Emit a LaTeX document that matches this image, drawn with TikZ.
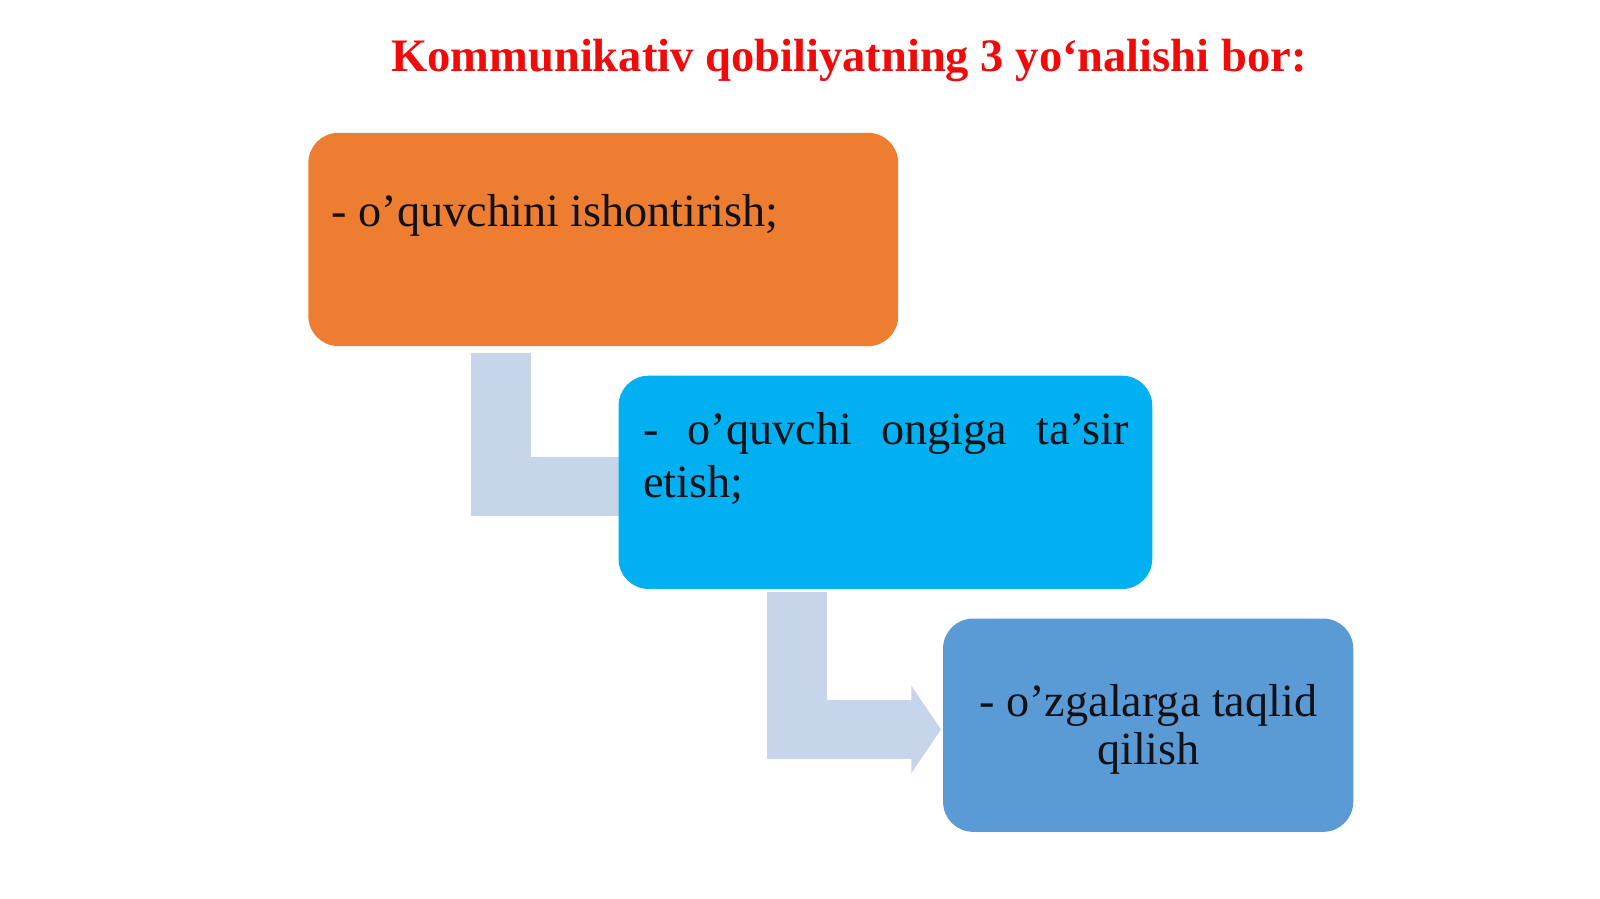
\documentclass[tikz,border=0pt]{standalone}
\usepackage{fontspec}
\setmainfont{Liberation Serif}
\usetikzlibrary{arrows.meta,calc,backgrounds}
\definecolor{orng}{HTML}{ED7D31}
\definecolor{cyanb}{HTML}{00B0F0}
\definecolor{steel}{HTML}{5B9BD5}
\definecolor{arrowc}{HTML}{C7D5EA}
\definecolor{titlered}{HTML}{F00A0A}
\definecolor{txtc}{HTML}{111118}
\begin{document}
\begin{tikzpicture}[x=1pt,y=-1pt,scale=1.0204,every node/.append style={transform shape},
  box/.style={rounded corners=30pt, inner sep=0pt, anchor=north west, minimum height=209pt},
  txt/.style={font=\fontsize{45.3}{52}\selectfont, text=txtc, inner sep=0pt},
  conn/.style={draw=arrowc, line width=59.2pt, line join=miter, -{Triangle[length=29.6pt,width=85.7pt]}}]
\useasboundingbox (0,0) rectangle (1568,881);
\node[font=\bfseries\fontsize{45.6}{52}\selectfont, text=titlered, anchor=base, inner sep=0pt] (title) at (832,70) {Kommunikativ qobiliyatning 3 yo‘nalishi bor:};
\node[box, fill=orng, minimum width=578pt] (b1) at (302,130) {};
\node[box, fill=cyanb, minimum width=523pt] (b2) at (606,368) {};
\node[box, fill=steel, minimum width=402pt] (b3) at (924,606) {};
\begin{pgfonlayer}{background}
\fill[white] (0,0) rectangle (1568,881);
\draw[conn] ($(b1.south west)+(189,6)$) |- ($(b2.west)+(31,4)$);
\draw[conn] ($(b2.south west)+(175,3)$) |- ($(b3.west)+(-2,4)$);
\end{pgfonlayer}
\node[txt, anchor=base west] (t1) at (325,222) {- o’quvchini ishontirish;};
\node[txt, anchor=north west, align=left] (t2) at (630,404) {\makebox[476pt][s]{- o’quvchi ongiga ta’sir}\\etish;};
\node[txt, font=\fontsize{45.3}{47.5}\selectfont, align=center] (t3) at ($(b3.center)+(0,4)$) {- o’zgalarga taqlid\\qilish};
\end{tikzpicture}
\end{document}
